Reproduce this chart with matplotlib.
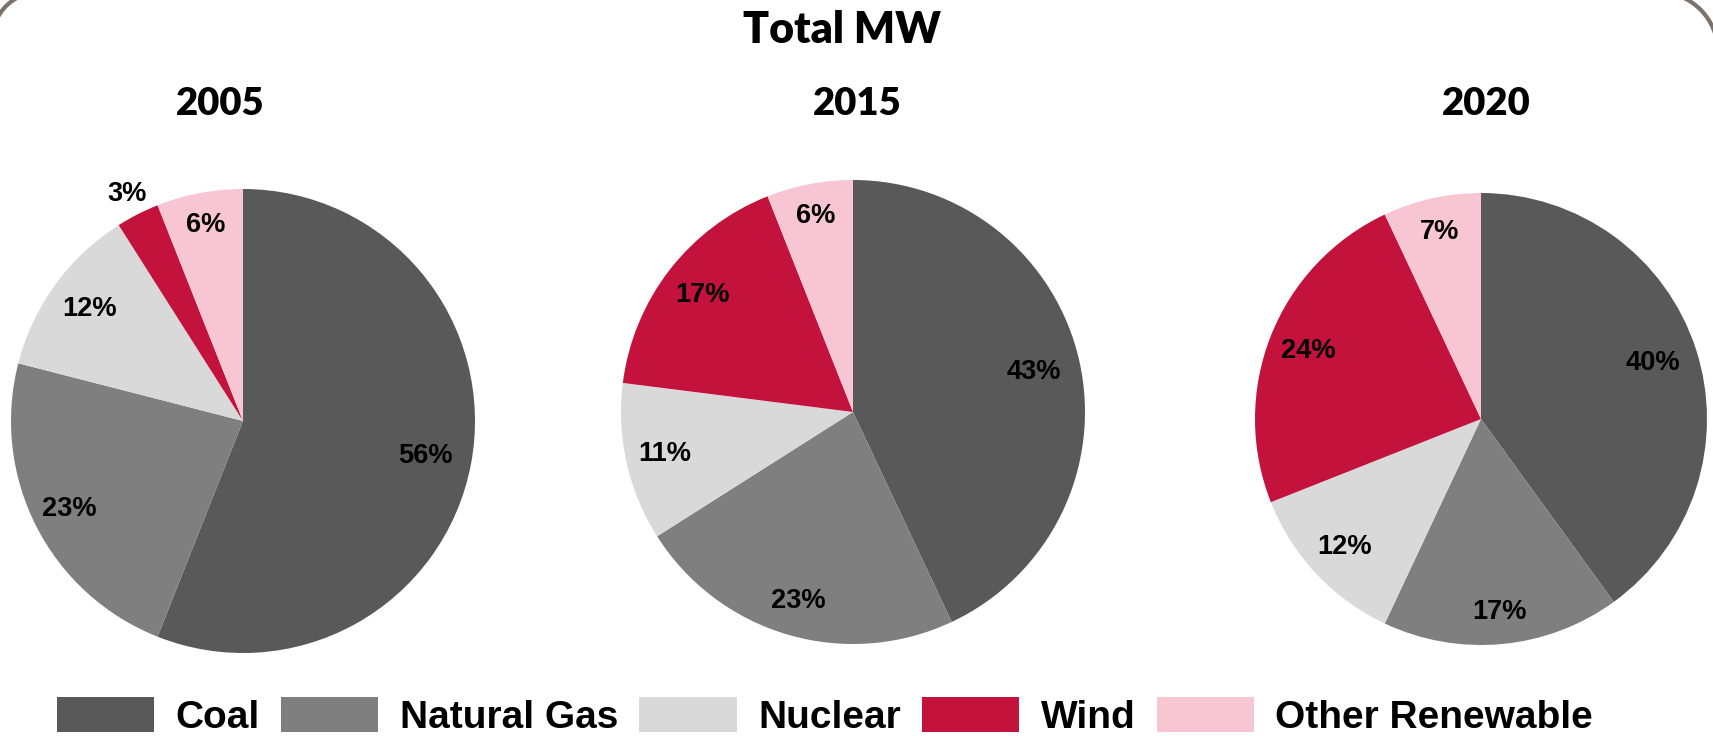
import matplotlib
matplotlib.use("Agg")
import matplotlib.pyplot as plt
from matplotlib.patches import Arc
from matplotlib.font_manager import FontProperties
import numpy as np

# ---- data ----
categories = ["Coal", "Natural Gas", "Nuclear", "Wind", "Other Renewable"]
years = ["2005", "2015", "2020"]
share_2005 = [56, 23, 12, 3, 6]
share_2015 = [43, 23, 11, 17, 6]
share_2020 = [40, 17, 12, 24, 7]
title = "Total MW"

# ---- style ----
colors = ["#595959", "#7f7f7f", "#d9d9d9", "#c3123c", "#f8c6d3"]
W, H = 1713, 736
DPI = 100
fig = plt.figure(figsize=(W / DPI, H / DPI), dpi=DPI)
fig.patch.set_facecolor("white")

# pie geometry in pixels (center x, center y from top, radius)
geoms = [(243, 421, 232), (853, 412, 232), (1481, 419, 226)]
heading_x = [220, 857, 1486]
label_dist = [[0.80, 0.84, 0.82, 1.10, 0.86],
              [0.80, 0.85, 0.83, 0.82, 0.86],
              [0.80, 0.86, 0.83, 0.82, 0.85]]

lab_font = dict(family="Liberation Sans", weight="bold", size=19.6, color="black")
head_font = dict(family="Lato", weight="heavy", color="black")

wedges_ref = None
for i, (yr, vals) in enumerate(zip(years, [share_2005, share_2015, share_2020])):
    cx, cy, r = geoms[i]
    ax = fig.add_axes([(cx - r) / W, (H - cy - r) / H, 2 * r / W, 2 * r / H])
    wedges, _ = ax.pie(vals, colors=colors, startangle=90, counterclock=False,
                       radius=1, wedgeprops=dict(linewidth=0))
    total = float(sum(vals))
    for j, (w, v) in enumerate(zip(wedges, vals)):
        mid = np.deg2rad((w.theta1 + w.theta2) / 2)
        d = label_dist[i][j]
        ax.text(d * np.cos(mid), d * np.sin(mid), f"{v / total * 100:.0f}%",
                ha="center", va="center", **lab_font)
    ax.set_xlim(-1, 1)
    ax.set_ylim(-1, 1)
    ax.set_aspect("equal")
    ax.axis("off")
    fig.text(heading_x[i] / W, (H - 104) / H, yr, ha="center", va="center",
             fontsize=27.5, **head_font)
    if wedges_ref is None:
        wedges_ref = wedges

fig.text(842 / W, (H - 30) / H, title, ha="center", va="center",
         fontsize=31, **head_font)

# legend
leg = fig.legend(handles=wedges_ref, labels=categories, loc="upper center",
                 bbox_to_anchor=(825 / W, (H - 697) / H), ncol=5, frameon=False,
                 prop=FontProperties(family="Liberation Sans", weight="bold", size=28),
                 handlelength=2.5, handleheight=1.0, handletextpad=0.55,
                 columnspacing=0.55, borderpad=0, borderaxespad=0)

# rounded frame corners (partially visible)
frame_col = "#7b726c"
fig.patches.append(Arc((40, H - 40), 96, 96, theta1=90, theta2=180,
                       transform=None, color=frame_col, lw=3))
fig.patches.append(Arc((1658, H - 52), 120, 120, theta1=0, theta2=90,
                       transform=None, color=frame_col, lw=3))

fig.savefig("out.png", dpi=DPI)
